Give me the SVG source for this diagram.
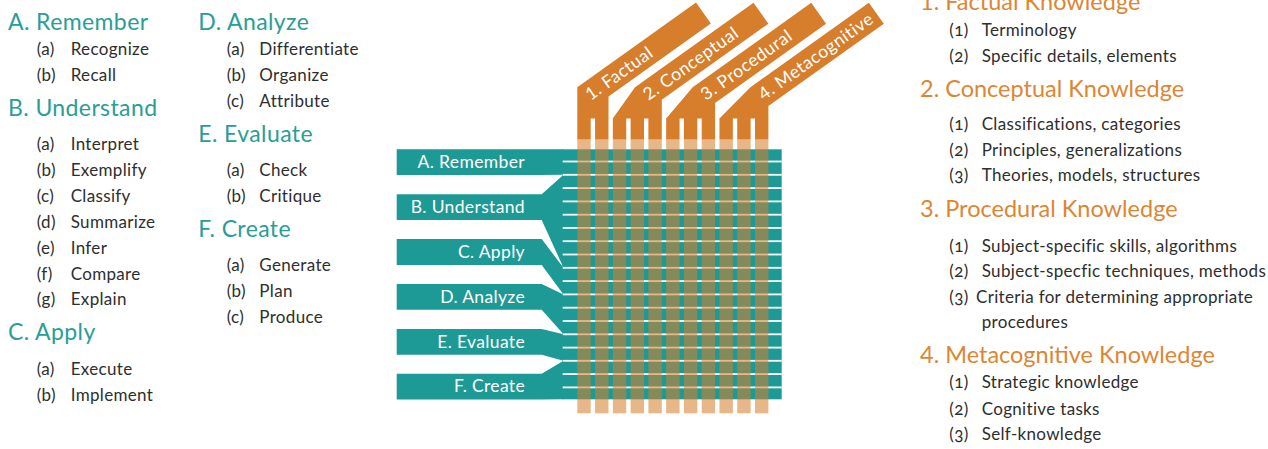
<svg xmlns="http://www.w3.org/2000/svg" width="1268" height="449" viewBox="0 0 1268 449">
<style>
text{font-family:Lato,"Open Sans","DejaVu Sans",sans-serif}
.hl{font-size:23px;fill:#2a9d98;letter-spacing:0.4px}
.hr{font-size:23.5px;fill:#dc8634;letter-spacing:0px}
.it{font-size:17px;fill:#2e2e2e;letter-spacing:0.33px}
.num{font-feature-settings:"onum"}
.lbl{font-size:17.5px;fill:#ffffff;letter-spacing:0.35px;text-anchor:end}
.band{font-size:17.5px;fill:#ffffff;letter-spacing:0.5px}
.or{fill:#d67e2c}
.tl{fill:#1e9a96}
.lt{fill:#d67e2c;fill-opacity:0.56}
.wl{fill:#ffffff}
</style>
<rect width="1268" height="449" fill="#ffffff"/>

<g id="band-factual">
<polygon class="or" points="577.3,118.6 577.3,87.3 696,2.6 710.9,23.5 608.5,96.6 608.5,118.6"/>
<text class="band" transform="translate(590.7,101) rotate(-35.5)">1. Factual</text>
</g>
<g id="band-conceptual">
<polygon class="or" points="612.8,118.6 635,87.3 753.5,2.8 768.4,23.7 661.8,99.7 661.8,118.6"/>
<text class="band" transform="translate(648.4,101) rotate(-35.5)">2. Conceptual</text>
</g>
<g id="band-procedural">
<polygon class="or" points="666.2,118.6 692.7,87.3 811.2,2.8 826.1,23.7 715.1,102.9 715.1,118.6"/>
<text class="band" transform="translate(706.1,101) rotate(-35.5)">3. Procedural</text>
</g>
<g id="band-metacognitive">
<polygon class="or" points="719.5,118.6 750.4,87.3 868.9,2.8 883.8,23.7 768.4,106,768.4,118.6"/>
<text class="band" transform="translate(763.8,101) rotate(-35.5)">4. Metacognitive</text>
</g>

<g id="label-remember">
<polygon class="tl" points="396.7,149.3 563.5,149.3 563.5,174.8 541.7,175.1 396.7,175.1"/>
<text class="lbl" x="525" y="168">A. Remember</text>
</g>
<g id="label-understand">
<polygon class="tl" points="396.7,194.2 541.7,194.2 563.5,174.8 563.5,267.8 541.7,220 396.7,220"/>
<text class="lbl" x="525" y="212.8">B. Understand</text>
</g>
<g id="label-apply">
<polygon class="tl" points="396.7,239.1 541.7,239.1 563.5,267.8 563.5,294.4 541.7,264.9 396.7,264.9"/>
<text class="lbl" x="525" y="257.7">C. Apply</text>
</g>
<g id="label-analyze">
<polygon class="tl" points="396.7,284 541.7,284 563.5,294.4 563.5,334.3 541.7,309.8 396.7,309.8"/>
<text class="lbl" x="525" y="302.6">D. Analyze</text>
</g>
<g id="label-evaluate">
<polygon class="tl" points="396.7,328.9 541.7,328.9 563.5,334.3 563.5,360.8 541.7,354.7 396.7,354.7"/>
<text class="lbl" x="525" y="347.5">E. Evaluate</text>
</g>
<g id="label-create">
<polygon class="tl" points="396.7,373.8 541.7,373.8 563.5,360.8 563.5,399.3 541.7,399.6 396.7,399.6"/>
<text class="lbl" x="525" y="392.4">F. Create</text>
</g>

<g id="connectors">
<g id="strip-tops" class="or">
<rect x="577.3" y="118" width="13.4" height="21.5"/>
<rect x="595.07" y="118" width="13.4" height="21.5"/>
<rect x="612.84" y="118" width="13.4" height="21.5"/>
<rect x="630.61" y="118" width="13.4" height="21.5"/>
<rect x="648.38" y="118" width="13.4" height="21.5"/>
<rect x="666.15" y="118" width="13.4" height="21.5"/>
<rect x="683.92" y="118" width="13.4" height="21.5"/>
<rect x="701.69" y="118" width="13.4" height="21.5"/>
<rect x="719.46" y="118" width="13.4" height="21.5"/>
<rect x="737.23" y="118" width="13.4" height="21.5"/>
<rect x="755" y="118" width="13.4" height="21.5"/>
</g>
<rect class="tl" x="562.5" y="149.3" width="219.2" height="250"/>
<g id="row-lines" class="wl">
<rect x="562.7" y="160.6" width="219" height="1.8"/>
<rect x="562.7" y="173.9" width="219" height="1.8"/>
<rect x="562.7" y="187.2" width="219" height="1.8"/>
<rect x="562.7" y="200.5" width="219" height="1.8"/>
<rect x="562.7" y="213.8" width="219" height="1.8"/>
<rect x="562.7" y="227.0" width="219" height="1.8"/>
<rect x="562.7" y="240.3" width="219" height="1.8"/>
<rect x="562.7" y="253.6" width="219" height="1.8"/>
<rect x="562.7" y="266.9" width="219" height="1.8"/>
<rect x="562.7" y="280.2" width="219" height="1.8"/>
<rect x="562.7" y="293.5" width="219" height="1.8"/>
<rect x="562.7" y="306.8" width="219" height="1.8"/>
<rect x="562.7" y="320.1" width="219" height="1.8"/>
<rect x="562.7" y="333.4" width="219" height="1.8"/>
<rect x="562.7" y="346.7" width="219" height="1.8"/>
<rect x="562.7" y="359.9" width="219" height="1.8"/>
<rect x="562.7" y="373.2" width="219" height="1.8"/>
<rect x="562.7" y="386.5" width="219" height="1.8"/>
</g>
<g id="strips" class="lt">
<rect x="577.3" y="139.5" width="13.4" height="273.8"/>
<rect x="595.07" y="139.5" width="13.4" height="273.8"/>
<rect x="612.84" y="139.5" width="13.4" height="273.8"/>
<rect x="630.61" y="139.5" width="13.4" height="273.8"/>
<rect x="648.38" y="139.5" width="13.4" height="273.8"/>
<rect x="666.15" y="139.5" width="13.4" height="273.8"/>
<rect x="683.92" y="139.5" width="13.4" height="273.8"/>
<rect x="701.69" y="139.5" width="13.4" height="273.8"/>
<rect x="719.46" y="139.5" width="13.4" height="273.8"/>
<rect x="737.23" y="139.5" width="13.4" height="273.8"/>
<rect x="755" y="139.5" width="13.4" height="273.8"/>
</g>
</g>

<g id="cognitive-list">
<text class="hl" x="8" y="30">A. Remember</text>
<text class="it" x="36.7" y="55">(a)</text><text class="it" x="70.7" y="55">Recognize</text>
<text class="it" x="36.7" y="81">(b)</text><text class="it" x="70.7" y="81">Recall</text>
<text class="hl" x="8" y="115.7">B. Understand</text>
<text class="it" x="36.7" y="150">(a)</text><text class="it" x="70.7" y="150">Interpret</text>
<text class="it" x="36.7" y="176">(b)</text><text class="it" x="70.7" y="176">Exemplify</text>
<text class="it" x="36.7" y="201.8">(c)</text><text class="it" x="70.7" y="201.8">Classify</text>
<text class="it" x="36.7" y="227.7">(d)</text><text class="it" x="70.7" y="227.7">Summarize</text>
<text class="it" x="36.7" y="253.6">(e)</text><text class="it" x="70.7" y="253.6">Infer</text>
<text class="it" x="36.7" y="279.5">(f)</text><text class="it" x="70.7" y="279.5">Compare</text>
<text class="it" x="36.7" y="305.4">(g)</text><text class="it" x="70.7" y="305.4">Explain</text>
<text class="hl" x="8" y="340">C. Apply</text>
<text class="it" x="36.7" y="375">(a)</text><text class="it" x="70.7" y="375">Execute</text>
<text class="it" x="36.7" y="401">(b)</text><text class="it" x="70.7" y="401">Implement</text>

<text class="hl" x="198.3" y="30">D. Analyze</text>
<text class="it" x="226.7" y="55">(a)</text><text class="it" x="259.3" y="55">Differentiate</text>
<text class="it" x="226.7" y="81">(b)</text><text class="it" x="259.3" y="81">Organize</text>
<text class="it" x="226.7" y="106.7">(c)</text><text class="it" x="259.3" y="106.7">Attribute</text>
<text class="hl" x="198.3" y="141.7">E. Evaluate</text>
<text class="it" x="226.7" y="176">(a)</text><text class="it" x="259.3" y="176">Check</text>
<text class="it" x="226.7" y="201.7">(b)</text><text class="it" x="259.3" y="201.7">Critique</text>
<text class="hl" x="198.3" y="236.7">F. Create</text>
<text class="it" x="226.7" y="271">(a)</text><text class="it" x="259.3" y="271">Generate</text>
<text class="it" x="226.7" y="296.7">(b)</text><text class="it" x="259.3" y="296.7">Plan</text>
<text class="it" x="226.7" y="322.7">(c)</text><text class="it" x="259.3" y="322.7">Produce</text>
</g>

<g id="knowledge-list">
<text class="hr" x="920" y="10">1. Factual Knowledge</text>
<text class="it num" x="949.3" y="36">(1)</text><text class="it" x="981.7" y="36">Terminology</text>
<text class="it num" x="949.3" y="61.7">(2)</text><text class="it" x="981.7" y="61.7">Specific details, elements</text>
<text class="hr" x="920" y="96.7">2. Conceptual Knowledge</text>
<text class="it num" x="949.3" y="130">(1)</text><text class="it" x="981.7" y="130">Classifications, categories</text>
<text class="it num" x="949.3" y="155.5">(2)</text><text class="it" x="981.7" y="155.5">Principles, generalizations</text>
<text class="it num" x="949.3" y="181">(3)</text><text class="it" x="981.7" y="181">Theories, models, structures</text>
<text class="hr" x="920" y="216.7">3. Procedural Knowledge</text>
<text class="it num" x="949.3" y="251.7">(1)</text><text class="it" x="981.7" y="251.7">Subject-specific skills, algorithms</text>
<text class="it num" x="949.3" y="276.7">(2)</text><text class="it" x="981.7" y="276.7">Subject-specfic techniques, methods</text>
<text class="it num" x="949.3" y="302.7">(3)</text><text class="it" x="976" y="302.7">Criteria for determining appropriate</text>
<text class="it" x="981.7" y="328.3">procedures</text>
<text class="hr" x="920" y="363.3">4. Metacognitive Knowledge</text>
<text class="it num" x="949.3" y="388.3">(1)</text><text class="it" x="981.7" y="388.3">Strategic knowledge</text>
<text class="it num" x="949.3" y="414.5">(2)</text><text class="it" x="981.7" y="414.5">Cognitive tasks</text>
<text class="it num" x="949.3" y="440">(3)</text><text class="it" x="981.7" y="440">Self-knowledge</text>
</g>
</svg>
